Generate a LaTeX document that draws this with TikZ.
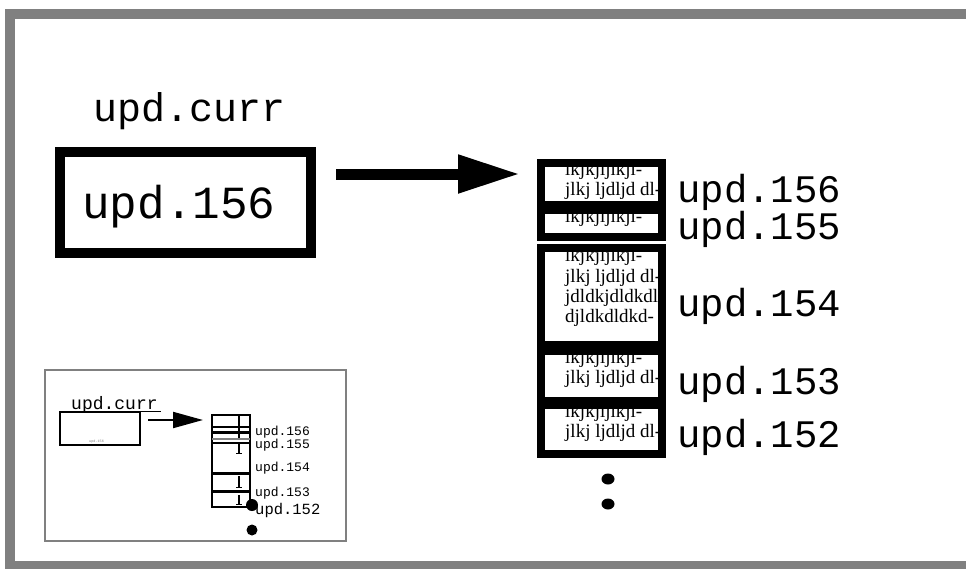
\documentclass[tikz,border=0pt]{standalone}
\usepackage{fontspec}
\usetikzlibrary{arrows.meta}
\newfontfamily\monofont{Liberation Mono}
\newfontfamily\textserif{Liberation Serif}
\definecolor{framegray}{RGB}{128,128,128}
\tikzset{
  txt/.style={inner sep=0pt, anchor=base west},
  biglabel/.style={txt, font=\monofont\fontsize{39}{39}\selectfont},
  bodytxt/.style={txt, font=\textserif\fontsize{19}{19}\selectfont},
  blk/.style={draw, line width=8pt, inner sep=0pt, minimum width=121pt},
  smalllabel/.style={txt, font=\monofont\fontsize{13}{13}\selectfont},
  dot/.style={fill=black, draw=none},
}
\begin{document}
\begin{tikzpicture}[x=1pt,y=-1pt]
\useasboundingbox (0,0) rectangle (966,568);
\clip (0,0) rectangle (966,568);
\fill[white] (0,0) rectangle (966,568);
% slide frame
\draw[framegray, line width=10pt] (10,14) rectangle (971,566);

% current pointer
\node[biglabel, font=\monofont\fontsize{40}{40}\selectfont] (currlbl) at (93,121) {upd.curr};
\node[draw, line width=10pt, inner sep=0pt, minimum width=251pt, minimum height=101pt] (curr) at (185.5,202.5) {};
\node[txt, font=\monofont\fontsize{46}{46}\selectfont] (currtxt) at (82,218) {upd.156};

\coordinate (arrS) at (336,174);
\coordinate (arrE) at (520,174);
\draw[line width=11pt, -{Triangle[length=62pt,width=36pt]}] (arrS) -- (arrE);

% text of the update entries
\node[bodytxt] (t1a) at (565,175) {lkjkjljlkjl-};
\node[bodytxt] (t1b) at (565,195) {jlkj ljdljd dl-};
\node[bodytxt] (t2a) at (565,222) {lkjkjljlkjl-};
\node[bodytxt] (t3a) at (565,261) {lkjkjljlkjl-};
\node[bodytxt] (t3b) at (565,282) {jlkj ljdljd dl-};
\node[bodytxt] (t3c) at (565,302) {jdldkjdldkdl};
\node[bodytxt] (t3d) at (565,322) {djldkdldkd-};
\node[bodytxt] (t4a) at (565,363) {lkjkjljlkjl-};
\node[bodytxt] (t4b) at (565,383) {jlkj ljdljd dl-};
\node[bodytxt] (t5a) at (565,417) {lkjkjljlkjl-};
\node[bodytxt] (t5b) at (565,437) {jlkj ljdljd dl-};

% entry boxes
\node[blk, minimum height=42pt] (b156) at (601.5,184) {};
\node[blk, minimum height=27pt] (b155) at (601.5,223.5) {};
\node[blk, minimum height=97pt] (b154) at (601.5,296.5) {};
\node[blk, minimum height=50pt] (b153) at (601.5,376) {};
\node[blk, minimum height=49pt] (b152) at (601.5,429.5) {};

\node[biglabel] (l156) at (677,202) {upd.156};
\node[biglabel] (l155) at (677,239) {upd.155};
\node[biglabel] (l154) at (677,316) {upd.154};
\node[biglabel] (l153) at (677,394) {upd.153};
\node[biglabel] (l152) at (677,447) {upd.152};

\fill[dot] (608,479) ellipse [x radius=6.5pt, y radius=5.5pt];
\fill[dot] (608,504) ellipse [x radius=6.5pt, y radius=5.5pt];

% small overview
\draw[framegray, line width=2.5pt] (45,370) rectangle (346,541);
\node[txt, font=\monofont\fontsize{18}{18}\selectfont] (ocurrlbl) at (71,409) {upd.curr};
\draw[line width=1pt] (71,411) -- (161,411);
\node[draw, line width=2.5pt, inner sep=0pt, minimum width=80pt, minimum height=33pt] (ocurr) at (100,428.5) {};
\node[txt, font=\monofont\fontsize{3.5}{3.5}\selectfont, text=gray] (ocurrtxt) at (89,442) {upd.156};
\coordinate (oarrS) at (148,420);
\coordinate (oarrE) at (203,420);
\draw[line width=2pt, -{Triangle[length=30pt,width=16pt]}] (oarrS) -- (oarrE);

\draw[line width=2.5pt] (212,415) rectangle (250,507);
\draw[line width=1.5pt] (212,427) -- (250,427);
\draw[line width=3pt] (212,432) -- (250,432);
\draw[framegray, line width=2pt] (212,439) -- (250,439);
\draw[line width=2.5pt] (212,443) -- (250,443);
\draw[line width=3pt] (212,473) -- (250,473);
\draw[line width=3pt] (212,491) -- (250,491);
\draw[line width=1.5pt] (239,415) -- (239,438);
\foreach \ya/\yb in {442/453, 476/487, 495/504} {
  \draw[line width=1.5pt] (239,\ya) -- (239,\yb);
  \draw[line width=1pt] (236,\yb) -- (242,\yb);
}
\node[smalllabel] (o156) at (255,435) {upd.156};
\node[smalllabel] (o155) at (255,448) {upd.155};
\node[smalllabel] (o154) at (255,471) {upd.154};
\node[smalllabel] (o153) at (255,496) {upd.153};
\node[txt, font=\monofont\fontsize{15.5}{15.5}\selectfont] (o152) at (255,514) {upd.152};
\fill[dot] (252,505) circle [radius=6pt];
\fill[dot] (252,530) circle [radius=5.5pt];
\end{tikzpicture}
\end{document}
